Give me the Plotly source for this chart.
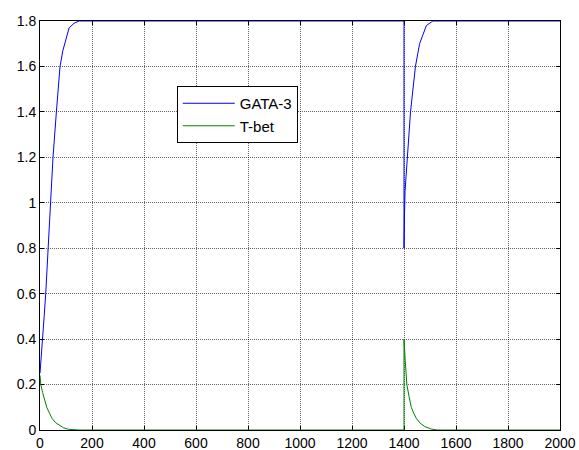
import plotly.graph_objects as go

# GATA-3 (blue) readings
gata_t = [0, 5, 10, 16, 22, 31, 40, 50, 63, 77, 88, 99, 112, 131, 150,
          1400, 1400, 1402, 1404, 1412, 1425, 1444, 1460, 1486, 1511, 2000]
gata_v = [0.25, 0.32, 0.40, 0.50, 0.60, 0.80, 1.00, 1.20, 1.40, 1.60, 1.67, 1.72, 1.77, 1.79, 1.80,
          1.80, 0.80, 0.95, 1.05, 1.20, 1.40, 1.60, 1.70, 1.78, 1.80, 1.80]

# T-bet (green) readings
tbet_t = [0, 3, 10, 18, 26, 36, 47, 60, 75, 90, 110, 150,
          1400, 1400, 1405, 1411, 1419, 1428, 1437, 1448, 1462, 1480, 1505, 1530, 2000]
tbet_v = [0.24, 0.20, 0.165, 0.13, 0.10, 0.075, 0.05, 0.032, 0.02, 0.01, 0.003, 0.0,
          0.0, 0.40, 0.30, 0.20, 0.15, 0.10, 0.075, 0.05, 0.03, 0.015, 0.004, 0.0, 0.0]

x_ticks = [0, 200, 400, 600, 800, 1000, 1200, 1400, 1600, 1800, 2000]
y_ticks = [0, 0.2, 0.4, 0.6, 0.8, 1.0, 1.2, 1.4, 1.6, 1.8]
y_labels = ["0", "0.2", "0.4", "0.6", "0.8", "1", "1.2", "1.4", "1.6", "1.8"]

FONT = "Liberation Sans, Arial, sans-serif"

fig = go.Figure()
fig.add_trace(go.Scatter(x=gata_t, y=gata_v, mode="lines", name="GATA-3",
                         line=dict(color="#0000FF", width=1)))
fig.add_trace(go.Scatter(x=tbet_t, y=tbet_v, mode="lines", name="T-bet",
                         line=dict(color="#008000", width=1)))

axis_common = dict(
    showline=True, linecolor="black", linewidth=1, mirror="ticks",
    ticks="inside", ticklen=4, tickcolor="black",
    showgrid=True, gridcolor="rgba(0,0,0,0.6)", griddash="1px,1px", gridwidth=1,
    zeroline=False, layer="below traces",
    tickfont=dict(family=FONT, size=14, color="black"),
)

fig.update_xaxes(range=[0, 2000], tickvals=x_ticks, **axis_common)
fig.update_yaxes(range=[0, 1.8], tickvals=y_ticks, ticktext=y_labels, **axis_common)

fig.update_layout(
    width=579, height=450,
    margin=dict(l=40, r=19, t=21, b=20, autoexpand=False),
    paper_bgcolor="white", plot_bgcolor="white",
    showlegend=True,
    legend=dict(x=0.263, y=0.841, xanchor="left", yanchor="top",
                bgcolor="white", bordercolor="black", borderwidth=1,
                font=dict(family=FONT, size=15, color="black"),
                itemwidth=52, tracegroupgap=0),
)

fig.write_html("out.html",
               config={"displayModeBar": False},
               post_script="document.body.style.margin='0';document.body.style.overflow='hidden';")
